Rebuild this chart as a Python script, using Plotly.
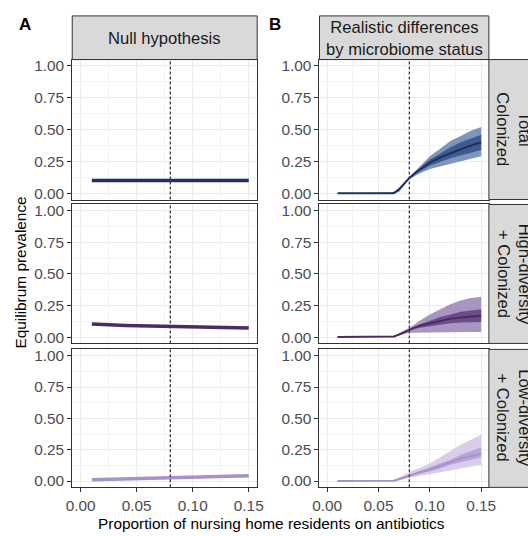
import plotly.graph_objects as go

# ---------------- data ----------------
LX = [0.01, 0.02, 0.03, 0.04, 0.05, 0.06, 0.07, 0.08, 0.09, 0.10, 0.11, 0.12, 0.13, 0.14, 0.15]
null_total = [0.10] * 15
null_high = [0.103, 0.096, 0.095, 0.092, 0.090, 0.088, 0.086, 0.085, 0.083, 0.081, 0.080, 0.078, 0.075, 0.073, 0.072]
null_low = [0.010, 0.012, 0.015, 0.018, 0.020, 0.022, 0.024, 0.027, 0.029, 0.031, 0.033, 0.035, 0.037, 0.039, 0.043]

RX = [0.01, 0.02, 0.03, 0.04, 0.05, 0.06, 0.065, 0.07, 0.075, 0.08, 0.085, 0.09, 0.10, 0.11, 0.12, 0.13, 0.14, 0.15]
tot_med = [0, 0, 0, 0, 0, 0, 0.000, 0.030, 0.075, 0.120, 0.155, 0.185, 0.240, 0.280, 0.315, 0.345, 0.375, 0.400]
tot_ohi = [0, 0, 0, 0, 0, 0.003, 0.010, 0.040, 0.085, 0.125, 0.170, 0.205, 0.290, 0.350, 0.410, 0.450, 0.490, 0.520]
tot_olo = [0, 0, 0, 0, 0, 0, 0.000, 0.010, 0.060, 0.110, 0.135, 0.155, 0.190, 0.210, 0.230, 0.250, 0.270, 0.290]
tot_ihi = [0, 0, 0, 0, 0, 0, 0.003, 0.035, 0.080, 0.122, 0.162, 0.195, 0.265, 0.310, 0.360, 0.400, 0.430, 0.460]
tot_ilo = [0, 0, 0, 0, 0, 0, 0.000, 0.020, 0.070, 0.117, 0.145, 0.170, 0.215, 0.245, 0.275, 0.300, 0.320, 0.340]

hi_med = [0, 0, 0, 0, 0, 0, 0.005, 0.020, 0.040, 0.060, 0.075, 0.090, 0.110, 0.130, 0.145, 0.155, 0.165, 0.170]
hi_ohi = [0, 0, 0, 0, 0, 0.003, 0.010, 0.030, 0.050, 0.075, 0.100, 0.130, 0.180, 0.220, 0.260, 0.290, 0.310, 0.320]
hi_olo = [0, 0, 0, 0, 0, 0, 0.000, 0.010, 0.025, 0.035, 0.040, 0.040, 0.040, 0.040, 0.040, 0.040, 0.040, 0.040]
hi_ihi = [0, 0, 0, 0, 0, 0, 0.007, 0.025, 0.045, 0.065, 0.085, 0.100, 0.130, 0.160, 0.180, 0.200, 0.210, 0.220]
hi_ilo = [0, 0, 0, 0, 0, 0, 0.003, 0.015, 0.035, 0.055, 0.065, 0.075, 0.090, 0.100, 0.110, 0.115, 0.120, 0.120]

lo_med = [0, 0, 0, 0, 0, 0, 0.003, 0.015, 0.030, 0.045, 0.060, 0.070, 0.090, 0.120, 0.150, 0.180, 0.200, 0.220]
lo_ohi = [0, 0, 0, 0, 0, 0.003, 0.010, 0.030, 0.050, 0.075, 0.090, 0.105, 0.140, 0.190, 0.240, 0.290, 0.330, 0.370]
lo_olo = [0, 0, 0, 0, 0, 0, 0.000, 0.005, 0.015, 0.025, 0.035, 0.040, 0.050, 0.065, 0.080, 0.100, 0.115, 0.130]
lo_ihi = [0, 0, 0, 0, 0, 0, 0.005, 0.020, 0.035, 0.050, 0.065, 0.080, 0.105, 0.140, 0.170, 0.210, 0.240, 0.270]
lo_ilo = [0, 0, 0, 0, 0, 0, 0.001, 0.010, 0.025, 0.040, 0.050, 0.060, 0.080, 0.100, 0.130, 0.150, 0.170, 0.190]

x_ticks = [0.00, 0.05, 0.10, 0.15]
x_ticklabels = ["0.00", "0.05", "0.10", "0.15"]
y_ticks = [0.00, 0.25, 0.50, 0.75, 1.00]
y_ticklabels = ["0.00", "0.25", "0.50", "0.75", "1.00"]
abx_ref = 0.08

col_titles = ["Null hypothesis", "Realistic differences<br>by microbiome status"]
row_titles = ["Total<br>Colonized", "High-diversity<br>+ Colonized", "Low-diversity<br>+ Colonized"]

# styles
line_cols = ["#1d315f", "#4a2b64", "#a792cc"]
outer_cols = ["#7f95bb", "#a896c0", "#d8cdea"]
inner_cols = ["#3e5b8e", "#6c4d8a", "#b8a6d8"]

W, H = 528, 536
def px_x(p): return p / W
def px_y(p): return 1 - p / H

col_dom = [(67, 257), (321, 495)]
row_dom = [(58, 199), (204, 344), (350, 489)]
FONT = "Liberation Sans, Arial, sans-serif"
TICKSZ = 15.4
STRIPSZ = 16.6

fig = go.Figure()
layout = {}
shapes = []
annotations = []

left_series = [null_total, null_high, null_low]
right_series = [
    (tot_med, tot_olo, tot_ohi, tot_ilo, tot_ihi),
    (hi_med, hi_olo, hi_ohi, hi_ilo, hi_ihi),
    (lo_med, lo_olo, lo_ohi, lo_ilo, lo_ihi),
]

for r in range(3):
    for c in range(2):
        idx = r * 2 + c + 1
        xa = "x" if idx == 1 else f"x{idx}"
        ya = "y" if idx == 1 else f"y{idx}"
        xkey = "xaxis" if idx == 1 else f"xaxis{idx}"
        ykey = "yaxis" if idx == 1 else f"yaxis{idx}"
        bottom = (r == 2)
        layout[xkey] = dict(
            domain=[px_x(col_dom[c][0]), px_x(col_dom[c][1])],
            anchor=ya, range=[-0.0075, 0.1575],
            tickvals=x_ticks, ticktext=x_ticklabels,
            showticklabels=bottom, ticks="outside" if bottom else "",
            ticklen=4, tickcolor="#333333", tickwidth=1,
            tickfont=dict(size=TICKSZ, color="#4d4d4d", family=FONT),
            showgrid=True, gridcolor="#ebebeb", gridwidth=1.2,
            minor=dict(tickvals=[0.025, 0.075, 0.125], showgrid=True,
                       gridcolor="#f3f3f3", gridwidth=0.8),
            showline=True, mirror=True, linecolor="#333333", linewidth=1,
            zeroline=False, fixedrange=True,
        )
        layout[ykey] = dict(
            domain=[px_y(row_dom[r][1]), px_y(row_dom[r][0])],
            anchor=xa, range=[-0.05, 1.05],
            tickvals=y_ticks, ticktext=y_ticklabels,
            ticks="outside", ticklen=4, tickcolor="#333333", tickwidth=1,
            tickfont=dict(size=TICKSZ, color="#4d4d4d", family=FONT),
            showgrid=True, gridcolor="#ebebeb", gridwidth=1.2,
            minor=dict(tickvals=[0.125, 0.375, 0.625, 0.875], showgrid=True,
                       gridcolor="#f3f3f3", gridwidth=0.8),
            showline=True, mirror=True, linecolor="#333333", linewidth=1,
            zeroline=False, fixedrange=True,
        )
        if c == 0:
            fig.add_trace(go.Scatter(x=LX, y=left_series[r], mode="lines",
                                     line=dict(color=line_cols[r], width=3.5),
                                     xaxis=xa, yaxis=ya, showlegend=False,
                                     hoverinfo="skip"))
        else:
            med, olo, ohi, ilo, ihi = right_series[r]
            fig.add_trace(go.Scatter(x=RX + RX[::-1], y=ohi + olo[::-1],
                                     fill="toself", fillcolor=outer_cols[r],
                                     line=dict(width=0), mode="lines",
                                     xaxis=xa, yaxis=ya, showlegend=False,
                                     hoverinfo="skip"))
            fig.add_trace(go.Scatter(x=RX + RX[::-1], y=ihi + ilo[::-1],
                                     fill="toself", fillcolor=inner_cols[r],
                                     line=dict(width=0), mode="lines",
                                     xaxis=xa, yaxis=ya, showlegend=False,
                                     hoverinfo="skip"))
            fig.add_trace(go.Scatter(x=RX, y=med, mode="lines",
                                     line=dict(color=line_cols[r], width=2),
                                     xaxis=xa, yaxis=ya, showlegend=False,
                                     hoverinfo="skip"))
        # dashed reference line
        shapes.append(dict(type="line", xref=xa, yref=f"{ya} domain",
                           x0=abx_ref, x1=abx_ref, y0=0, y1=1,
                           line=dict(color="#3a3a3a", width=1.3, dash="3px,2px"),
                           layer="above"))

# column strips
for c in range(2):
    x0, x1 = col_dom[c]
    shapes.append(dict(type="rect", xref="paper", yref="paper",
                       x0=px_x(x0), x1=px_x(x1), y0=px_y(58), y1=px_y(14),
                       fillcolor="#d9d9d9", line=dict(color="#333333", width=1)))
    annotations.append(dict(text=col_titles[c], xref="paper", yref="paper",
                            x=px_x((x0 + x1) / 2), y=px_y(37),
                            xanchor="center", yanchor="middle", showarrow=False,
                            font=dict(size=STRIPSZ, color="#1a1a1a", family=FONT)))
# row strips (right column)
for r in range(3):
    y0, y1 = row_dom[r]
    shapes.append(dict(type="rect", xref="paper", yref="paper",
                       x0=px_x(495), x1=px_x(545), y0=px_y(y1), y1=px_y(y0),
                       fillcolor="#d9d9d9", line=dict(color="#333333", width=1)))
    annotations.append(dict(text=row_titles[r], xref="paper", yref="paper",
                            x=px_x(520), y=px_y((y0 + y1) / 2), textangle=90,
                            xanchor="center", yanchor="middle", showarrow=False,
                            font=dict(size=STRIPSZ, color="#1a1a1a", family=FONT)))

# panel labels
annotations.append(dict(text="<b>A</b>", xref="paper", yref="paper", x=px_x(19), y=px_y(23),
                        xanchor="center", yanchor="middle", showarrow=False,
                        font=dict(size=17, color="#000000", family=FONT)))
annotations.append(dict(text="<b>B</b>", xref="paper", yref="paper", x=px_x(275), y=px_y(23),
                        xanchor="center", yanchor="middle", showarrow=False,
                        font=dict(size=17, color="#000000", family=FONT)))
# axis titles
annotations.append(dict(text="Equilibrum prevalence", xref="paper", yref="paper",
                        x=px_x(14), y=px_y(273), textangle=-90,
                        xanchor="center", yanchor="middle", showarrow=False,
                        font=dict(size=15.4, color="#000000", family=FONT)))
annotations.append(dict(text="Proportion of nursing home residents on antibiotics",
                        xref="paper", yref="paper", x=px_x(272), y=px_y(525),
                        xanchor="center", yanchor="middle", showarrow=False,
                        font=dict(size=15.4, color="#000000", family=FONT)))

fig.update_layout(
    width=W, height=H,
    margin=dict(l=0, r=0, t=0, b=0),
    paper_bgcolor="white", plot_bgcolor="white",
    shapes=shapes, annotations=annotations,
    font=dict(family=FONT),
    **layout,
)
fig.write_html("out.html", config={"displayModeBar": False},
               post_script="document.body.style.margin='0';document.body.style.overflow='hidden';")
